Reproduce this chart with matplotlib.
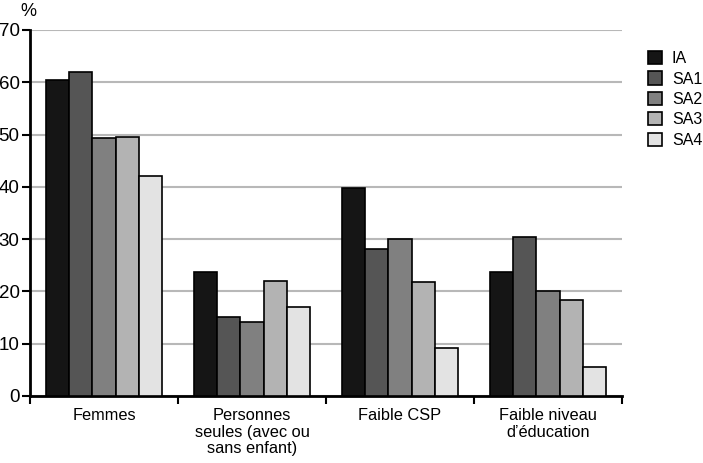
import matplotlib.pyplot as plt
import numpy as np
from matplotlib.patches import Patch

plt.rcParams["font.family"] = ["Liberation Sans", "DejaVu Sans"]

# Data (%)
categories = ["Femmes", "Personnes\nseules (avec ou\nsans enfant)", "Faible CSP", "Faible niveau\nd\u2019éducation"]
series_names = ["IA", "SA1", "SA2", "SA3", "SA4"]
ia = [60.4, 23.8, 39.8, 23.7]
sa1 = [62.0, 15.1, 28.2, 30.5]
sa2 = [49.3, 14.1, 30.0, 20.1]
sa3 = [49.6, 22.0, 21.8, 18.4]
sa4 = [42.1, 17.1, 9.2, 5.5]
colors = ["#151515", "#555555", "#808080", "#b3b3b3", "#e3e3e3"]

fig = plt.figure(figsize=(7.03, 4.63), dpi=100)
ax = fig.add_axes([30 / 703, 1 - 396 / 463, 592 / 703, 366 / 463])

n = len(series_names)
width = 0.157
centers = np.arange(len(categories)) + 0.5
for i, (vals, col) in enumerate(zip([ia, sa1, sa2, sa3, sa4], colors)):
    offs = (i - (n - 1) / 2) * width
    ax.bar(centers + offs, vals, width, color=col, edgecolor="black", linewidth=1.2, zorder=3)

ax.set_xlim(0, 4)
ax.set_ylim(0, 70)
ax.set_yticks(range(0, 71, 10))
ax.tick_params(axis="y", labelsize=13.5, length=6, width=1.5, direction="out", pad=1.5)
ax.yaxis.grid(True, color="#b8b8b8", linewidth=1.5, zorder=0)

ax.set_xticks([0, 1, 2, 3, 4])
ax.set_xticklabels([])
ax.tick_params(axis="x", which="major", length=6, width=1.5, direction="out")
ax.set_xticks(centers, minor=True)
ax.set_xticklabels(categories, minor=True, fontsize=11.8, linespacing=1.1)
ax.tick_params(axis="x", which="minor", length=0, pad=9)

for s in ["top", "right"]:
    ax.spines[s].set_visible(False)
for s in ["left", "bottom"]:
    ax.spines[s].set_linewidth(2)

fig.text(20 / 703, 1 - 12 / 463, "%", fontsize=13, va="center", ha="left")

handles = [Patch(facecolor=c, edgecolor="black", linewidth=1.2) for c in colors]
fig.legend(handles, series_names, loc="upper left", bbox_to_anchor=(640 / 703, 1 - 43 / 463),
           frameon=False, fontsize=11.5, handlelength=0.9, handleheight=0.9,
           handletextpad=0.6, labelspacing=0.33, borderpad=0)

fig.savefig("out.png", dpi=100)
